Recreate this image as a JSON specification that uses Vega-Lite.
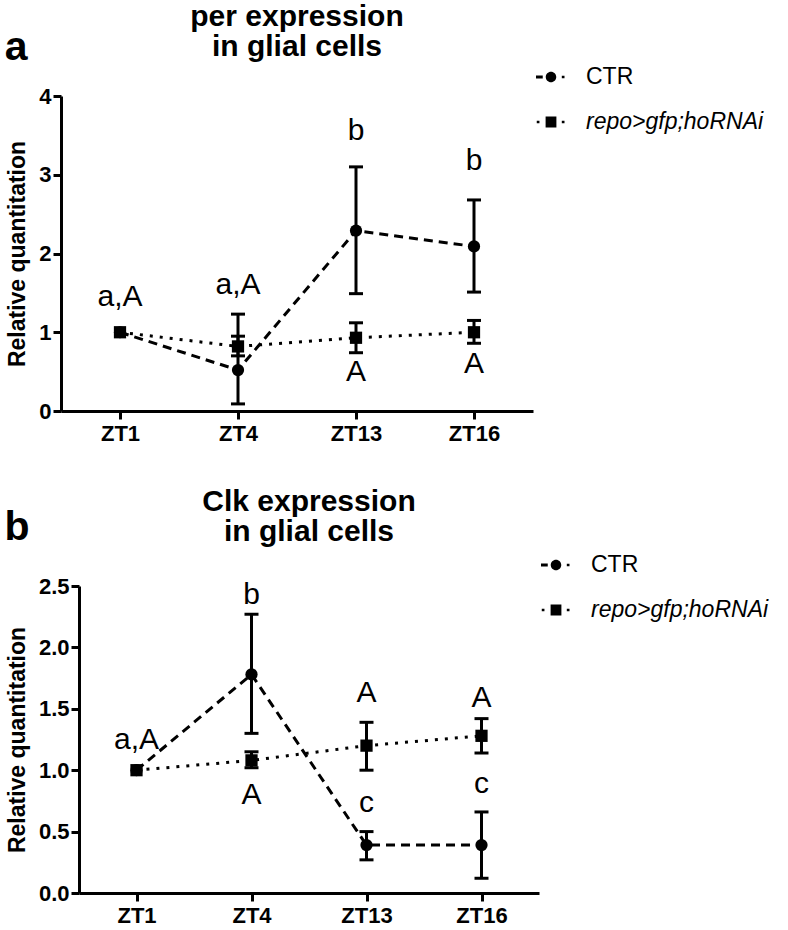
{
  "$schema": "https://vega.github.io/schema/vega-lite/v6.json",
  "background": "white",
  "padding": {"left": 4, "top": 2, "right": 5, "bottom": 0},
  "spacing": 43,
  "columns": 1,
  "resolve": {"scale": {"shape": "independent", "y": "independent", "x": "independent"}, "legend": {"shape": "independent"}},
  "config": {
    "view": {"stroke": null},
    "font": "Liberation Sans",
    "title": {"font": "Liberation Sans", "fontSize": 30, "fontWeight": "bold", "color": "black", "lineHeight": 30},
    "axis": {
      "domainColor": "black", "domainWidth": 3, "tickColor": "black", "tickWidth": 3, "tickSize": 8,
      "labelFont": "Liberation Sans", "labelFontWeight": "bold", "labelFontSize": 22, "labelColor": "black",
      "titleFont": "Liberation Sans", "titleFontWeight": "bold", "titleFontSize": 23, "titleColor": "black",
      "grid": false
    },
    "legend": {"labelFont": "Liberation Sans", "labelFontSize": 23, "labelColor": "black", "labelLimit": 0,
      "labelFontStyle": {"expr": "datum.value === 'CTR' ? 'normal' : 'italic'"}}
  },
  "datasets": {
    "perPts": [
      {"ZT": "ZT1", "group": "CTR", "mean": 1.0, "lo": null, "hi": null},
      {"ZT": "ZT4", "group": "CTR", "mean": 0.52, "lo": 0.09, "hi": 1.23},
      {"ZT": "ZT13", "group": "CTR", "mean": 2.29, "lo": 1.49, "hi": 3.1},
      {"ZT": "ZT16", "group": "CTR", "mean": 2.09, "lo": 1.51, "hi": 2.68},
      {"ZT": "ZT1", "group": "repo>gfp;hoRNAi", "mean": 1.0, "lo": null, "hi": null},
      {"ZT": "ZT4", "group": "repo>gfp;hoRNAi", "mean": 0.82, "lo": 0.7, "hi": 0.95},
      {"ZT": "ZT13", "group": "repo>gfp;hoRNAi", "mean": 0.93, "lo": 0.74, "hi": 1.12},
      {"ZT": "ZT16", "group": "repo>gfp;hoRNAi", "mean": 1.0, "lo": 0.86, "hi": 1.15}
    ],
    "perLabels": [
      {"ZT": "ZT1", "pos": 1.45, "label": "a,A"},
      {"ZT": "ZT4", "pos": 1.6, "label": "a,A"},
      {"ZT": "ZT13", "pos": 3.55, "label": "b"},
      {"ZT": "ZT16", "pos": 3.17, "label": "b"},
      {"ZT": "ZT13", "pos": 0.5, "label": "A"},
      {"ZT": "ZT16", "pos": 0.6, "label": "A"}
    ],
    "clkPts": [
      {"ZT": "ZT1", "group": "CTR", "mean": 1.0, "lo": null, "hi": null},
      {"ZT": "ZT4", "group": "CTR", "mean": 1.78, "lo": 1.3, "hi": 2.27},
      {"ZT": "ZT13", "group": "CTR", "mean": 0.39, "lo": 0.27, "hi": 0.5},
      {"ZT": "ZT16", "group": "CTR", "mean": 0.39, "lo": 0.12, "hi": 0.66},
      {"ZT": "ZT1", "group": "repo>gfp;hoRNAi", "mean": 1.0, "lo": null, "hi": null},
      {"ZT": "ZT4", "group": "repo>gfp;hoRNAi", "mean": 1.08, "lo": 1.02, "hi": 1.15},
      {"ZT": "ZT13", "group": "repo>gfp;hoRNAi", "mean": 1.2, "lo": 1.0, "hi": 1.39},
      {"ZT": "ZT16", "group": "repo>gfp;hoRNAi", "mean": 1.28, "lo": 1.14, "hi": 1.42}
    ],
    "clkLabels": [
      {"ZT": "ZT1", "pos": 1.25, "label": "a,A"},
      {"ZT": "ZT4", "pos": 2.43, "label": "b"},
      {"ZT": "ZT4", "pos": 0.8, "label": "A"},
      {"ZT": "ZT13", "pos": 1.63, "label": "A"},
      {"ZT": "ZT13", "pos": 0.73, "label": "c"},
      {"ZT": "ZT16", "pos": 1.59, "label": "A"},
      {"ZT": "ZT16", "pos": 0.89, "label": "c"}
    ]
  },
  "concat": [
    {
      "title": {"text": "a", "anchor": "start", "fontSize": 41, "dy": 67, "dx": -2, "offset": 0},
      "vconcat": [
        {
          "width": 472,
          "height": 315,
          "title": {"text": ["per expression", "in glial cells"], "anchor": "middle", "frame": "group", "offset": 23},
          "encoding": {
            "x": {"field": "ZT", "type": "ordinal", "scale": {"type": "point", "padding": 0.5, "domain": ["ZT1", "ZT4", "ZT13", "ZT16"]}, "axis": {"title": null, "labelAngle": 0, "labelPadding": 4}}
          },
          "layer": [
            {
              "data": {"name": "perPts"},
              "transform": [{"filter": "datum.group === 'CTR'"}],
              "mark": {"type": "line", "strokeWidth": 3, "color": "black", "strokeDash": [9, 6]},
              "encoding": {
                "y": {"field": "mean", "type": "quantitative", "title": "Relative quantitation", "scale": {"domain": [0, 4], "nice": false}, "axis": {"values": [0, 1, 2, 3, 4], "format": "d", "titlePadding": 9}}
              }
            },
            {
              "data": {"name": "perPts"},
              "transform": [{"filter": "datum.group !== 'CTR'"}],
              "mark": {"type": "line", "strokeWidth": 3, "color": "black", "strokeDash": [3, 7]},
              "encoding": {"y": {"field": "mean", "type": "quantitative", "title": "Relative quantitation"}}
            },
            {
              "data": {"name": "perPts"},
              "mark": {"type": "errorbar", "ticks": {"color": "black", "opacity": 1}, "rule": {"color": "black", "opacity": 1}, "size": 14, "thickness": 3, "color": "black"},
              "encoding": {
                "y": {"field": "lo", "type": "quantitative", "title": "Relative quantitation"},
                "y2": {"field": "hi"},
                "detail": {"field": "group"}
              }
            },
            {
              "data": {"name": "perPts"},
              "transform": [{"filter": "datum.group === 'CTR'"}],
              "mark": {"type": "point", "shape": "circle", "filled": true, "size": 150, "opacity": 1, "color": "black"},
              "encoding": {"y": {"field": "mean", "type": "quantitative", "title": "Relative quantitation"}}
            },
            {
              "data": {"name": "perPts"},
              "transform": [{"filter": "datum.group !== 'CTR'"}],
              "mark": {"type": "point", "shape": "square", "filled": true, "size": 150, "opacity": 1, "color": "black"},
              "encoding": {"y": {"field": "mean", "type": "quantitative", "title": "Relative quantitation"}}
            },
            {
              "data": {"name": "perPts"},
              "mark": {"type": "point", "filled": true, "size": 900, "opacity": 0, "color": "black"},
              "encoding": {
                "y": {"field": "mean", "type": "quantitative", "title": "Relative quantitation"},
                "shape": {"field": "group", "type": "nominal",
                  "scale": {"domain": ["CTR", "repo>gfp;hoRNAi"], "range": ["M-1,-0.1H-0.55V0.1H-1Z M0.35,0 A0.35,0.35 0 1,1 -0.35,0 A0.35,0.35 0 1,1 0.35,0 Z M0.72,-0.09H0.9V0.09H0.72Z", "M-0.95,-0.09H-0.77V0.09H-0.95Z M-0.36,-0.36H0.36V0.36H-0.36Z M0.72,-0.09H0.9V0.09H0.72Z"]},
                  "legend": {"title": null, "orient": "none", "legendX": 475, "legendY": -34, "padding": 0, "rowPadding": 18, "symbolSize": 900, "symbolOpacity": 1, "symbolFillColor": "black", "symbolStrokeWidth": 0, "labelOffset": 20}}
              }
            },
            {
              "data": {"name": "perLabels"},
              "mark": {"type": "text", "fontSize": 30, "font": "Liberation Sans", "baseline": "middle", "color": "black"},
              "encoding": {
                "y": {"field": "pos", "type": "quantitative", "title": "Relative quantitation"},
                "text": {"field": "label"}
              }
            }
          ]
        }
      ]
    },
    {
      "title": {"text": "b", "anchor": "start", "fontSize": 41, "dy": 62, "dx": -2, "offset": 0},
      "vconcat": [
        {
          "width": 478,
          "height": 307,
          "title": {"text": ["Clk expression", "in glial cells"], "anchor": "middle", "frame": "group", "dx": 9, "offset": 28},
          "encoding": {
            "x": {"field": "ZT", "type": "ordinal", "scale": {"type": "point", "padding": 0.5, "range": [18, 478], "domain": ["ZT1", "ZT4", "ZT13", "ZT16"]}, "axis": {"title": null, "labelAngle": 0, "labelPadding": 4}}
          },
          "layer": [
            {
              "data": {"name": "clkPts"},
              "transform": [{"filter": "datum.group === 'CTR'"}],
              "mark": {"type": "line", "strokeWidth": 3, "color": "black", "strokeDash": [9, 6]},
              "encoding": {
                "y": {"field": "mean", "type": "quantitative", "title": "Relative quantitation", "scale": {"domain": [0, 2.5], "nice": false}, "axis": {"values": [0, 0.5, 1, 1.5, 2, 2.5], "format": ".1f", "titlePadding": 9, "offset": -18}}
              }
            },
            {
              "data": {"name": "clkPts"},
              "transform": [{"filter": "datum.group !== 'CTR'"}],
              "mark": {"type": "line", "strokeWidth": 3, "color": "black", "strokeDash": [3, 7]},
              "encoding": {"y": {"field": "mean", "type": "quantitative", "title": "Relative quantitation"}}
            },
            {
              "data": {"name": "clkPts"},
              "mark": {"type": "errorbar", "ticks": {"color": "black", "opacity": 1}, "rule": {"color": "black", "opacity": 1}, "size": 14, "thickness": 3, "color": "black"},
              "encoding": {
                "y": {"field": "lo", "type": "quantitative", "title": "Relative quantitation"},
                "y2": {"field": "hi"},
                "detail": {"field": "group"}
              }
            },
            {
              "data": {"name": "clkPts"},
              "transform": [{"filter": "datum.group === 'CTR'"}],
              "mark": {"type": "point", "shape": "circle", "filled": true, "size": 150, "opacity": 1, "color": "black"},
              "encoding": {"y": {"field": "mean", "type": "quantitative", "title": "Relative quantitation"}}
            },
            {
              "data": {"name": "clkPts"},
              "transform": [{"filter": "datum.group !== 'CTR'"}],
              "mark": {"type": "point", "shape": "square", "filled": true, "size": 150, "opacity": 1, "color": "black"},
              "encoding": {"y": {"field": "mean", "type": "quantitative", "title": "Relative quantitation"}}
            },
            {
              "data": {"name": "clkPts"},
              "mark": {"type": "point", "filled": true, "size": 900, "opacity": 0, "color": "black"},
              "encoding": {
                "y": {"field": "mean", "type": "quantitative", "title": "Relative quantitation"},
                "shape": {"field": "group", "type": "nominal",
                  "scale": {"domain": ["CTR", "repo>gfp;hoRNAi"], "range": ["M-1,-0.1H-0.55V0.1H-1Z M0.35,0 A0.35,0.35 0 1,1 -0.35,0 A0.35,0.35 0 1,1 0.35,0 Z M0.72,-0.09H0.9V0.09H0.72Z", "M-0.95,-0.09H-0.77V0.09H-0.95Z M-0.36,-0.36H0.36V0.36H-0.36Z M0.72,-0.09H0.9V0.09H0.72Z"]},
                  "legend": {"title": null, "orient": "none", "legendX": 480, "legendY": -36, "padding": 0, "rowPadding": 18, "symbolSize": 900, "symbolOpacity": 1, "symbolFillColor": "black", "symbolStrokeWidth": 0, "labelOffset": 20}}
              }
            },
            {
              "data": {"name": "clkLabels"},
              "mark": {"type": "text", "fontSize": 30, "font": "Liberation Sans", "baseline": "middle", "color": "black"},
              "encoding": {
                "y": {"field": "pos", "type": "quantitative", "title": "Relative quantitation"},
                "text": {"field": "label"}
              }
            }
          ]
        }
      ]
    }
  ]
}
